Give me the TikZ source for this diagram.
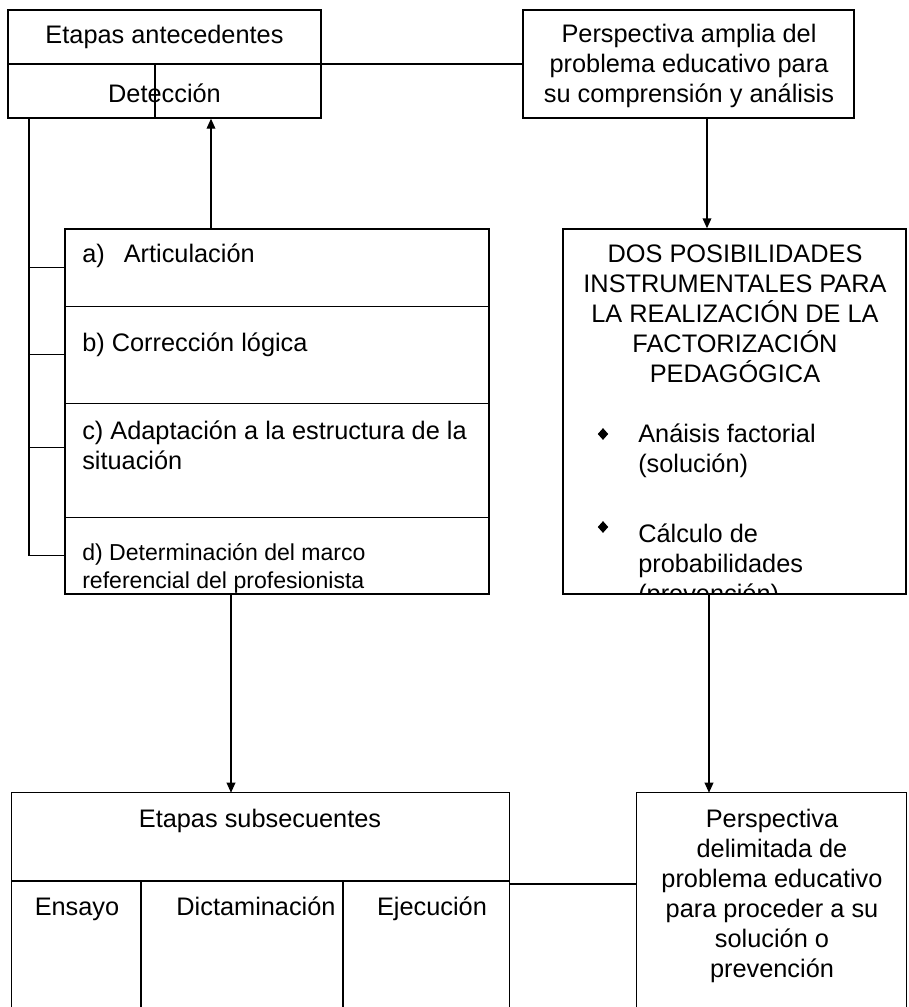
\documentclass[tikz,border=0pt]{standalone}
\usepackage{fontspec}
\setmainfont{Liberation Sans}
\usetikzlibrary{fit,calc,arrows.meta,shapes.geometric}
\begin{document}
\begin{tikzpicture}[x=0.75pt,y=-0.75pt,
  frame/.style={draw, line width=1pt, inner sep=0pt},
  cell/.style={inner sep=0pt},
  lbl/.style={inner sep=0pt, font=\fontsize{19}{22.5}\selectfont, anchor=base},
  lblw/.style={lbl, anchor=base west, align=left},
  small/.style={inner sep=0pt, font=\fontsize{17.3}{20.3}\selectfont, anchor=base west, align=left},
  line/.style={line width=1pt},
  arr/.style={line width=1pt, -{Triangle[width=6.5pt,length=7.5pt]}},
  bullet/.style={diamond, fill, inner sep=0pt, minimum width=8pt, minimum height=9pt},
]
\useasboundingbox (0,0) rectangle (908,1007);
\clip (0,0) rectangle (908,1007);

% multi-line labels are placed by the baseline of their last line

% ---------- top left: antecedent stages ----------
\node[frame, fit={(8,10)(321,118)}] (ant) {};
\node[lbl] (antT) at (164.5,43) {Etapas antecedentes};
\node[lbl] (det) at (164.5,102) {Detección};
\draw[line] (155,64) -- (155,118);

% ---------- top right: broad perspective ----------
\node[frame, fit={(523,10)(854,118)}] (per1) {};
\node[lbl, align=center] (per1T) at (689,102)
  {Perspectiva amplia del\\problema educativo para\\su comprensión y análisis};

% divider of the left box continuing as the connector
\draw[line] (ant.west) -- (per1.west);

% ---------- list of criteria ----------
\node[frame, fit={(65,229)(489,594)}] (lst) {};
\node[cell, fit={(65,229)(489,306)}] (itemA) {};
\node[cell, fit={(65,306)(489,403)}] (itemB) {};
\node[cell, fit={(65,403)(489,517)}] (itemC) {};
\node[cell, fit={(65,517)(489,594)}] (itemD) {};
\draw[line] (itemA.south west) -- (itemA.south east);
\draw[line] (itemB.south west) -- (itemB.south east);
\draw[line] (itemC.south west) -- (itemC.south east);
\begin{scope}
  \clip (lst.north west) rectangle (lst.south east);
  \node[lblw] (tA) at (82,262) {a)\hspace{0.75em}Articulación};
  \node[lblw] (tB) at (82,351) {b) Corrección lógica};
  \node[lblw] (tC) at (82,469) {c) Adaptación a la estructura de la\\situación};
  \node[small] (tD) at (82,588) {d) Determinación del marco\\referencial del profesionista};
\end{scope}

% bus on the left joining the list items to the antecedent box
\coordinate (bus) at (29,118);
\draw[line] (bus) |- (itemD.west);
\draw[line] (bus |- itemA.west) -- (itemA.west);
\draw[line] (bus |- itemB.west) -- (itemB.west);
\draw[line] ($(itemC.north west)+(-36,45)$) -- ($(itemC.north west)+(0,45)$);

% arrow up to the detection cell
\coordinate (up) at (211,229);
\draw[arr] (up) -- (up |- ant.south);

% ---------- two instrumental possibilities ----------
\node[frame, fit={(563,229)(906,594)}] (dos) {};
\coordinate (a2) at (707,118);
\draw[arr] (a2) -- (a2 |- dos.north);
\begin{scope}
  \clip (dos.north west) rectangle (dos.south east);
  \node[lbl, align=center] (dosT) at (735,382)
    {DOS POSIBILIDADES\\INSTRUMENTALES PARA\\LA REALIZACIÓN DE LA\\FACTORIZACIÓN\\PEDAGÓGICA};
  \node[bullet] (b1) at (603,434) {};
  \node[lblw] (i1) at (638,472) {Anáisis factorial\\(solución)};
  \node[bullet] (b2) at (603,527) {};
  \node[lblw] (i2) at (638,602) {Cálculo de\\probabilidades\\(prevención)};
\end{scope}

% ---------- subsequent stages ----------
\node[cell, fit={(12,793)(509,1015)}] (sub) {};
\draw[line] (sub.south west) -- (sub.north west) -- (sub.north east) -- (sub.south east);
\draw[line] (12,881) -- (509,881);
\draw[line] (141,881) -- (141,1015);
\draw[line] (343,881) -- (343,1015);
\node[lbl] (subT) at (260,827) {Etapas subsecuentes};
\node[lbl] (ens) at (77,915) {Ensayo};
\node[lbl] (dic) at (256,915) {Dictaminación};
\node[lbl] (eje) at (432,915) {Ejecución};

\coordinate (a4) at (231,594);
\draw[arr] (a4) -- (a4 |- sub.north);

% ---------- delimited perspective ----------
\node[cell, fit={(637,793)(906,1015)}] (per2) {};
\draw[line] (per2.south west) -- (per2.north west) -- (per2.north east) -- (per2.south east);
\node[lbl, align=center] (per2T) at (772,977)
  {Perspectiva\\delimitada de\\problema educativo\\para proceder a su\\solución o\\prevención};

\coordinate (a3) at (709,594);
\draw[arr] (a3) -- (a3 |- per2.north);

\coordinate (link) at (509,884);
\draw[line] (link) -- (link -| per2.west);
\end{tikzpicture}
\end{document}
